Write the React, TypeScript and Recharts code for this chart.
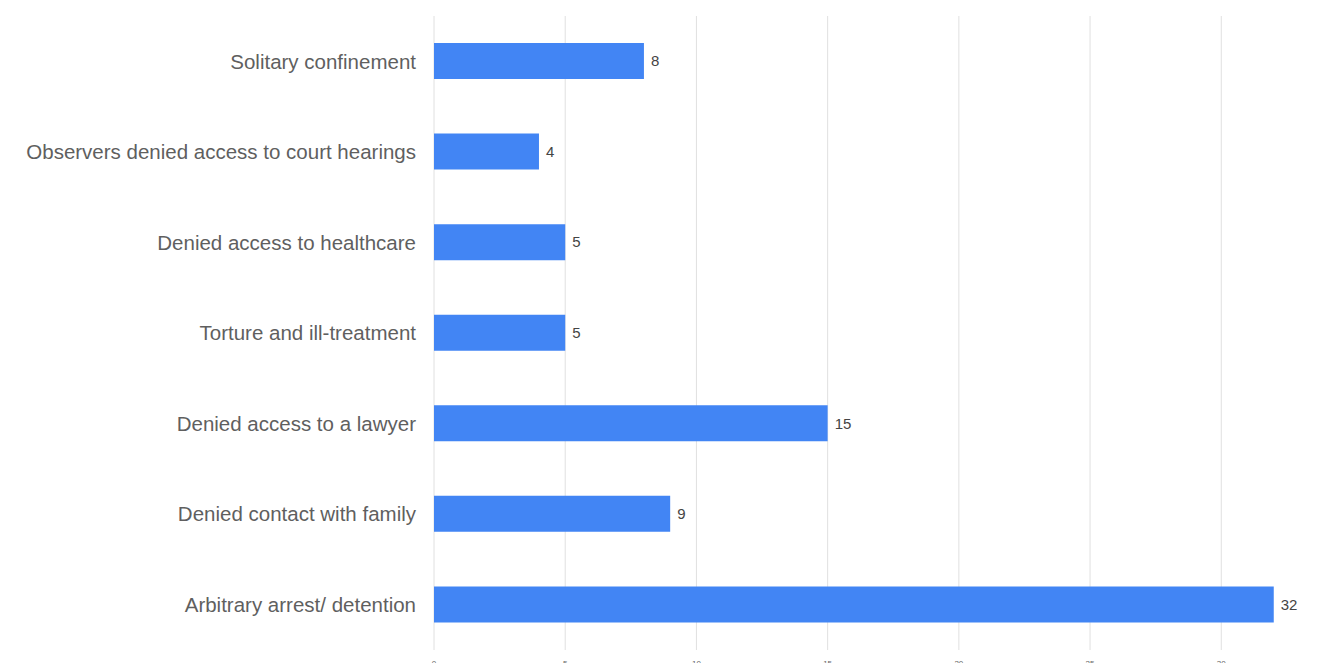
import React from 'react';
import { BarChart, Bar, XAxis, YAxis, CartesianGrid, LabelList } from 'recharts';

const categories = [
  'Solitary confinement',
  'Observers denied access to court hearings',
  'Denied access to healthcare',
  'Torture and ill-treatment',
  'Denied access to a lawyer',
  'Denied contact with family',
  'Arbitrary arrest/ detention',
];
const counts = [8, 4, 5, 5, 15, 9, 32];
const xTicks = [0, 5, 10, 15, 20, 25, 30];

const data = categories.map((name, i) => ({ name, value: counts[i] }));

const FONT = 'Liberation Sans, Arial, sans-serif';

export default function App() {
  return (
    <div style={{ position: 'absolute', left: 0, top: 0 }}>
      <BarChart
        width={1337}
        height={663}
        data={data}
        layout="vertical"
        margin={{ top: 16, right: 37, bottom: 0, left: 0 }}
      >
        <CartesianGrid horizontal={false} stroke="#e0e0e0" syncWithTicks />
        <XAxis
          type="number"
          domain={[0, 33]}
          ticks={xTicks}
          axisLine={false}
          tickLine={false}
          height={13}
          tickMargin={4}
          tick={{ fontSize: 8, fill: '#666', fontFamily: FONT }}
        />
        <YAxis
          type="category"
          dataKey="name"
          width={434}
          axisLine={false}
          tickLine={false}
          tickMargin={12}
          interval={0}
          tick={{ fontSize: 20.5, fill: '#5f5f5f', fontFamily: FONT }}
        />
        <Bar dataKey="value" fill="#4285F4" barSize={36} isAnimationActive={false}>
          <LabelList
            dataKey="value"
            position="right"
            offset={7}
            style={{ fontSize: 15, fill: '#444', fontFamily: FONT }}
          />
        </Bar>
      </BarChart>
    </div>
  );
}
